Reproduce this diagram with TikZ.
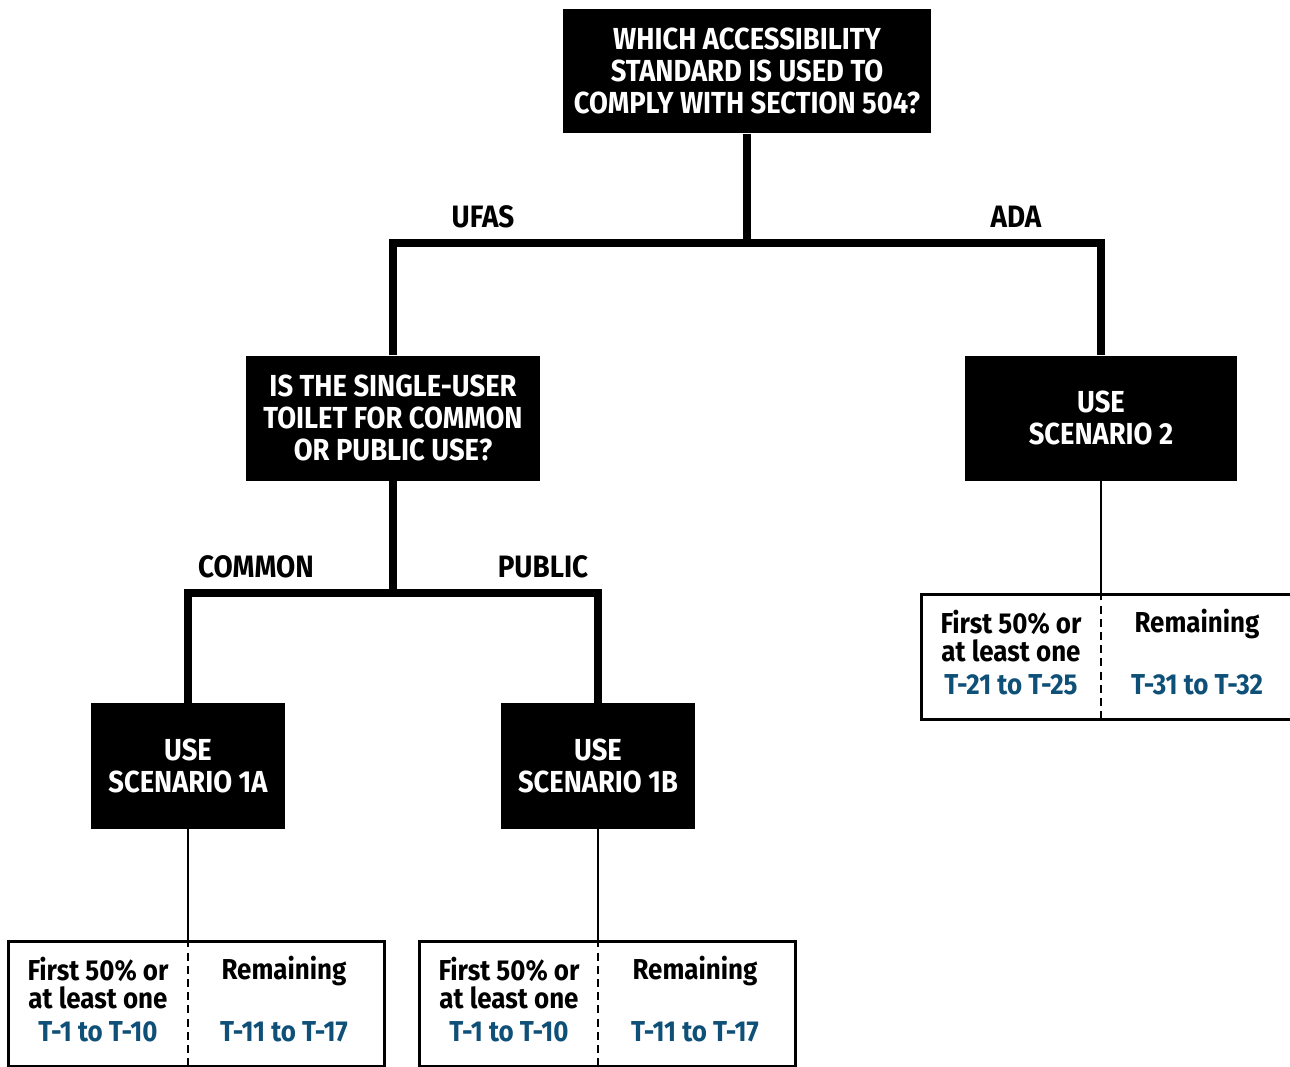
\documentclass[tikz,border=0pt]{standalone}
\usepackage{fontspec}
\setmainfont{Fira Sans}[FakeStretch=0.9]
\usetikzlibrary{calc}
\definecolor{tblue}{HTML}{0F5078}

\begin{document}
\begin{tikzpicture}[x=0.02cm, y=-0.02cm,
    qbox/.style={fill=black, text=white, align=center, inner sep=0pt, font=\bfseries\fontsize{17.3}{18.2}\selectfont},
    trunk/.style={line width=4.5pt},
    twig/.style={line width=1.1pt},
    tablebox/.style={draw, line width=1.7pt, minimum width=7.54cm, minimum height=2.5cm, inner sep=0pt},
    cell/.style={align=center, inner sep=0pt, font=\bfseries\fontsize{16.4}{15.8}\selectfont},
    tref/.style={cell, text=tblue},
    branchlabel/.style={font=\bfseries\fontsize{17.6}{17.6}\selectfont, inner sep=0pt}]
	\useasboundingbox (0,0) rectangle (1290,1066);
	% questions and outcomes
	\draw (747,71) node[qbox, minimum width=7.36cm, minimum height=2.5cm] (q1) {WHICH ACCESSIBILITY\\STANDARD IS USED TO\\COMPLY WITH SECTION 504?};
	\draw (393,418) node[qbox, minimum width=5.88cm, minimum height=2.5cm] (q2) {IS THE SINGLE-USER\\TOILET FOR COMMON\\OR PUBLIC USE?};
	\draw (1101,418) node[qbox, minimum width=5.44cm, minimum height=2.5cm] (s2) {USE\\SCENARIO 2};
	\draw (188,766) node[qbox, minimum width=3.88cm, minimum height=2.52cm] (s1a) {USE\\SCENARIO 1A};
	\draw (598,766) node[qbox, minimum width=3.88cm, minimum height=2.52cm] (s1b) {USE\\SCENARIO 1B};
	% branches
	\coordinate (b1) at (747,243);
	\coordinate (b2) at (393,593);
	\draw[trunk] (q1.south) -- (b1);
	\draw[trunk] (q2.north) |- (b1) -| (s2.north);
	\draw[trunk] (q2.south) -- (b2);
	\draw[trunk] (s1a.north) |- (b2) -| (s1b.north);
	\draw (483,217) node[branchlabel] (ufas) {UFAS};
	\draw (1016,217) node[branchlabel] (ada) {ADA};
	\draw (256,567) node[branchlabel] (common) {COMMON};
	\draw (543,567) node[branchlabel] (public) {PUBLIC};
	% tables
	\foreach \src/\dx/\ty/\first/\rest in {s1a/188/941/T-1 to T-10/T-11 to T-17, s1b/599/941/T-1 to T-10/T-11 to T-17, s2/1101/594/T-21 to T-25/T-31 to T-32}{
		\draw (\dx+8.5,\ty+62.5) node[tablebox] (tab-\src) {};
		\draw[twig] (\src.south) -- (\src.south |- tab-\src.north);
		\draw[twig, dash pattern=on 4.5pt off 3pt] (\src.south |- tab-\src.north) -- (\src.south |- tab-\src.south);
		\draw (\dx-90,\ty+42) node[cell] (fst-\src) {First 50\% or\\at least one};
		\draw (\dx+96,\ty+30) node[cell] (rem-\src) {Remaining};
		\draw (\dx-90,\ty+91) node[tref] (rf-\src) {\first};
		\draw (\dx+96,\ty+91) node[tref] (rr-\src) {\rest};
	}
\end{tikzpicture}
\end{document}
